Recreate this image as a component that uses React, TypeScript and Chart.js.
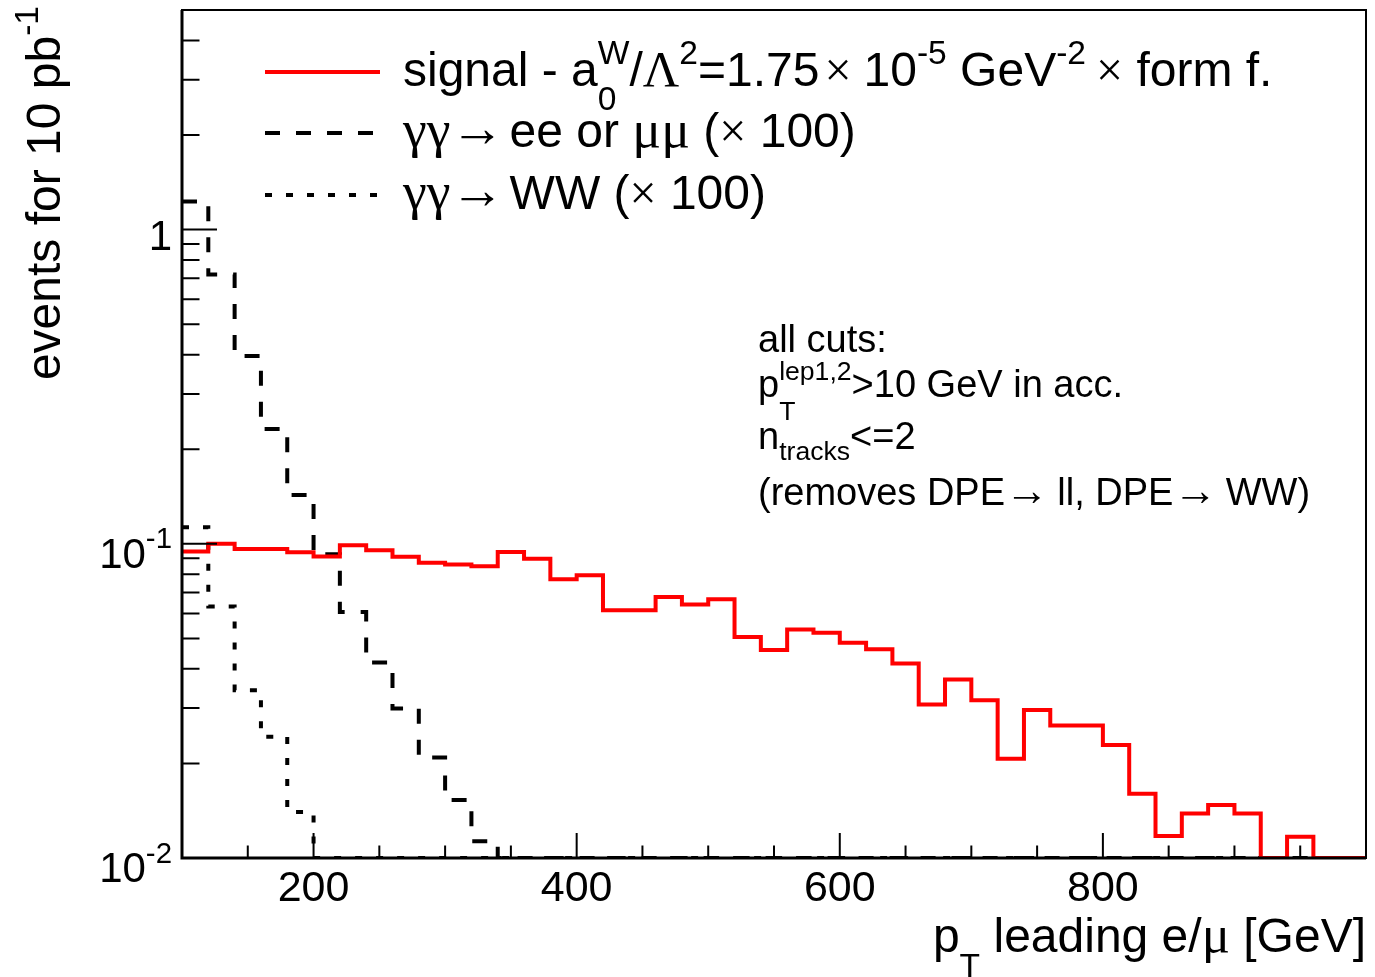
import React, { useEffect, useRef } from "react";
import { Chart, registerables } from "chart.js";

Chart.register(...registerables);

// ---------- data ----------
const binEdges = [
  100, 120, 140, 160, 180, 200, 220, 240, 260, 280, 300, 320, 340, 360, 380, 400,
  420, 440, 460, 480, 500, 520, 540, 560, 580, 600, 620, 640, 660, 680, 700, 720,
  740, 760, 780, 800, 820, 840, 860, 880, 900, 920, 940, 960, 980, 1000,
];

const signalValues = [
  0.0946, 0.1, 0.0963, 0.0962, 0.094, 0.0912, 0.099, 0.0954, 0.091, 0.0871, 0.0859,
  0.0848, 0.0941, 0.0897, 0.0771, 0.0794, 0.0615, 0.0615, 0.0677, 0.0641, 0.0666,
  0.0505, 0.0459, 0.0534, 0.0521, 0.0484, 0.0462, 0.0416, 0.0308, 0.037, 0.0318,
  0.0207, 0.0296, 0.0264, 0.0264, 0.0229, 0.016, 0.01175, 0.01386, 0.01474, 0.01386,
  0.01, 0.01169, 0.01, 0.01,
];

const eeMuMuValues = [
  1.228, 0.72, 0.396, 0.232, 0.143, 0.0926, 0.0607, 0.0419, 0.0299, 0.0209, 0.0153,
  0.0113, 0.01, 0.01, 0.01, 0.01, 0.01, 0.01, 0.01, 0.01, 0.01, 0.01, 0.01, 0.01,
  0.01, 0.01, 0.01, 0.01, 0.01, 0.01, 0.01, 0.01, 0.01, 0.01, 0.01, 0.01, 0.01, 0.01,
  0.01, 0.01, 0.01, 0.01, 0.01, 0.01, 0.01,
];

const wwValues = [
  0.113, 0.0632, 0.0342, 0.0243, 0.014, 0.01, 0.01, 0.01, 0.01, 0.01, 0.01, 0.01,
  0.01, 0.01, 0.01, 0.01, 0.01, 0.01, 0.01, 0.01, 0.01, 0.01, 0.01, 0.01, 0.01, 0.01,
  0.01, 0.01, 0.01, 0.01, 0.01, 0.01, 0.01, 0.01, 0.01, 0.01, 0.01, 0.01, 0.01, 0.01,
  0.01, 0.01, 0.01, 0.01, 0.01,
];

const xTickLabels = [200, 400, 600, 800];
const yMajorTicks = [0.01, 0.1, 1];
const yMinorTicks = [
  0.02, 0.03, 0.04, 0.05, 0.06, 0.07, 0.08, 0.09, 0.2, 0.3, 0.4, 0.5, 0.6, 0.7, 0.8,
  0.9, 2, 3, 4, 5,
];

// ---------- text helpers ----------
const SANS = "'Liberation Sans', Arial, Helvetica, sans-serif";
const SERIF = "'Liberation Serif', 'DejaVu Serif', 'Times New Roman', serif";

type Seg = {
  t?: string;
  serif?: boolean;
  sup?: string;
  sub?: string;
  dx?: number;
  scale?: number;
  subDy?: number;
  raise?: number;
};

const SCRIPT = 0.7;
const SUP_DY = -0.46;
const SUB_DY = 0.52;

function segWidth(ctx: CanvasRenderingContext2D, s: Seg, size: number): number {
  const dx = s.dx || 0;
  if (s.t !== undefined) {
    ctx.font = `${size * (s.scale || 1)}px ${s.serif ? SERIF : SANS}`;
    return dx + ctx.measureText(s.t).width;
  }
  ctx.font = `${size * SCRIPT}px ${s.serif ? SERIF : SANS}`;
  const a = s.sup ? ctx.measureText(s.sup).width : 0;
  const b = s.sub ? ctx.measureText(s.sub).width : 0;
  return dx + Math.max(a, b);
}

function richWidth(ctx: CanvasRenderingContext2D, segs: Seg[], size: number) {
  return segs.reduce((w, s) => w + segWidth(ctx, s, size), 0);
}

function drawRich(
  ctx: CanvasRenderingContext2D,
  segs: Seg[],
  x: number,
  y: number,
  size: number
) {
  let cx = x;
  ctx.textAlign = "left";
  ctx.textBaseline = "alphabetic";
  for (const s of segs) {
    const w = segWidth(ctx, s, size);
    const px = cx + (s.dx || 0);
    if (s.t !== undefined) {
      ctx.font = `${size * (s.scale || 1)}px ${s.serif ? SERIF : SANS}`;
      ctx.fillText(s.t, px, y - (s.raise || 0) * size);
    } else {
      ctx.font = `${size * SCRIPT}px ${s.serif ? SERIF : SANS}`;
      if (s.sup) ctx.fillText(s.sup, px, y + SUP_DY * size);
      if (s.sub) ctx.fillText(s.sub, px, y + (s.subDy ?? SUB_DY) * size);
    }
    cx += w;
  }
  return cx - x;
}

const legendLine1: Seg[] = [
  { t: "signal - a" },
  { sup: "W", sub: "0", subDy: 0.5 },
  { t: "/" },
  { t: "Λ", serif: true, scale: 1.05 },
  { sup: "2" },
  { t: "=1.75" },
  { t: "×", serif: true, dx: 5 },
  { t: "10", dx: 12 },
  { sup: "-5" },
  { t: " GeV" },
  { sup: "-2" },
  { t: "×", serif: true, dx: 10 },
  { t: " form f." },
];
const legendLine2: Seg[] = [
  { t: "γγ", serif: true, scale: 1.12 },
  { t: "→", serif: true, scale: 1.12, raise: 0.02 },
  { t: " ee or ", dx: -8 },
  { t: "μμ", serif: true, scale: 1.12 },
  { t: " (" },
  { t: "×", serif: true },
  { t: " 100)" },
];
const legendLine3: Seg[] = [
  { t: "γγ", serif: true, scale: 1.12 },
  { t: "→", serif: true, scale: 1.12, raise: 0.02 },
  { t: " WW (", dx: -8 },
  { t: "×", serif: true },
  { t: " 100)" },
];

const noteLines: Seg[][] = [
  [{ t: "all cuts:" }],
  [{ t: "p" }, { sup: "lep1,2", sub: "T", subDy: 0.6 }, { t: ">10 GeV in acc." }],
  [{ t: "n" }, { sub: "tracks", subDy: 0.3 }, { t: "<=2" }],
  [
    { t: "(removes DPE" },
    { t: "→", serif: true, scale: 1.15 },
    { t: " ll, DPE", dx: -2 },
    { t: "→", serif: true, scale: 1.15 },
    { t: " WW)", dx: -2 },
  ],
];

const xTitle: Seg[] = [
  { t: "p" },
  { sub: "T" },
  { t: " leading e/" },
  { t: "μ", serif: true, scale: 1.1 },
  { t: " [GeV]" },
];
const yTitle: Seg[] = [{ t: "events for 10 pb" }, { sup: "-1" }];

function yLabelSegs(v: number): Seg[] {
  if (v === 1) return [{ t: "1" }];
  const e = Math.round(Math.log10(v));
  return [{ t: "10" }, { sup: String(e) }];
}

// ---------- plugin drawing ROOT-like frame, ticks and texts ----------
const rootDecor = {
  id: "rootDecor",
  afterDraw(chart: any) {
    const ctx: CanvasRenderingContext2D = chart.ctx;
    const { left, right, top, bottom } = chart.chartArea;
    const xs = chart.scales.x;
    const ys = chart.scales.y;
    ctx.save();
    ctx.strokeStyle = "#000";
    ctx.fillStyle = "#000";
    ctx.lineCap = "butt";

    // frame
    ctx.lineWidth = 2;
    ctx.strokeRect(left, top, right - left, bottom - top);
    ctx.lineWidth = 3;
    ctx.beginPath();
    ctx.moveTo(left, top);
    ctx.lineTo(left, bottom);
    ctx.lineTo(right, bottom);
    ctx.stroke();

    // x ticks (inside, upward)
    ctx.lineWidth = 2;
    ctx.beginPath();
    for (const tk of xs.ticks) {
      const v = tk.value;
      if (v <= xs.min || v >= xs.max) continue;
      const px = xs.getPixelForValue(v);
      const len = xTickLabels.includes(v) ? 25 : 12.5;
      ctx.moveTo(px, bottom);
      ctx.lineTo(px, bottom - len);
    }
    // y ticks (inside, rightward)
    for (const v of yMajorTicks) {
      const py = ys.getPixelForValue(v);
      ctx.moveTo(left, py);
      ctx.lineTo(left + 35, py);
    }
    for (const v of yMinorTicks) {
      const py = ys.getPixelForValue(v);
      if (py < top - 0.5) continue;
      ctx.moveTo(left, py);
      ctx.lineTo(left + 17.5, py);
    }
    ctx.stroke();

    // y tick labels
    const yLabSize = 42;
    for (const v of yMajorTicks) {
      const segs = yLabelSegs(v);
      const w = richWidth(ctx, segs, yLabSize);
      const py = ys.getPixelForValue(v);
      drawRich(ctx, segs, 172 - w, py + (v === 1 ? 20 : 24), yLabSize);
    }

    // legend
    const lx0 = 265, lx1 = 380;
    const rows = [
      { y: 72, color: "#ff0000", dash: [] as number[], segs: legendLine1 },
      { y: 133, color: "#000", dash: [15, 16], segs: legendLine2 },
      { y: 195, color: "#000", dash: [7, 14], segs: legendLine3 },
    ];
    for (const r of rows) {
      ctx.save();
      ctx.strokeStyle = r.color;
      ctx.lineWidth = 4;
      ctx.setLineDash(r.dash);
      ctx.beginPath();
      ctx.moveTo(lx0, r.y);
      ctx.lineTo(lx1, r.y);
      ctx.stroke();
      ctx.restore();
      drawRich(ctx, r.segs, 403, r.y + 14, 48);
    }

    // cut annotation
    const noteBase = [352, 397, 449, 505];
    noteLines.forEach((segs, i) => drawRich(ctx, segs, 758, noteBase[i], 38));

    // x title (right aligned at the axis end)
    const xtW = richWidth(ctx, xTitle, 48);
    drawRich(ctx, xTitle, right - xtW, 952, 48);

    // y title (rotated, right aligned at the top)
    const ytW = richWidth(ctx, yTitle, 48);
    ctx.save();
    ctx.translate(60, 6);
    ctx.rotate(-Math.PI / 2);
    drawRich(ctx, yTitle, -ytW, 0, 48);
    ctx.restore();

    ctx.restore();
  },
};

function histPoints(vals: number[]) {
  return binEdges.map((x, i) => ({ x, y: vals[Math.min(i, vals.length - 1)] }));
}

export default function App() {
  const ref = useRef<HTMLCanvasElement>(null);

  useEffect(() => {
    document.body.style.margin = "0";
    const canvas = ref.current;
    if (!canvas) return;
    const chart = new Chart(canvas, {
      type: "line",
      data: {
        datasets: [
          {
            label: "signal",
            data: histPoints(signalValues),
            borderColor: "#ff0000",
            borderWidth: 4,
            stepped: "before",
            pointRadius: 0,
            fill: false,
            borderJoinStyle: "miter",
          },
          {
            label: "ee/mumu x100",
            data: histPoints(eeMuMuValues),
            borderColor: "#000",
            borderWidth: 4,
            borderDash: [15, 16],
            stepped: "before",
            pointRadius: 0,
            fill: false,
            borderJoinStyle: "miter",
          },
          {
            label: "WW x100",
            data: histPoints(wwValues),
            borderColor: "#000",
            borderWidth: 4,
            borderDash: [7, 14],
            stepped: "before",
            pointRadius: 0,
            fill: false,
            borderJoinStyle: "miter",
          },
        ],
      },
      options: {
        responsive: false,
        animation: false,
        devicePixelRatio: 1,
        layout: { padding: { top: 10, right: 9, left: 0, bottom: 0 } },
        plugins: {
          legend: { display: false },
          tooltip: { enabled: false },
        },
        scales: {
          x: {
            type: "linear",
            min: 100,
            max: 1000,
            display: true,
            grid: { display: false, drawTicks: false },
            border: { display: false },
            ticks: {
              stepSize: 50,
              autoSkip: false,
              maxRotation: 0,
              padding: 5,
              color: "#000",
              font: { family: SANS, size: 43 },
              callback: (v: any) => (xTickLabels.includes(Number(v)) ? String(v) : ""),
            },
            afterFit: (s: any) => {
              s.height = 119;
            },
          },
          y: {
            type: "logarithmic",
            min: 0.01,
            max: 5,
            display: true,
            grid: { display: false, drawTicks: false },
            border: { display: false },
            ticks: { display: false },
            afterFit: (s: any) => {
              s.width = 182;
            },
          },
        },
      },
      plugins: [rootDecor],
    } as any);
    return () => chart.destroy();
  }, []);

  return (
    <div style={{ position: "absolute", left: 0, top: 0, width: 1375, height: 977, background: "#fff" }}>
      <canvas ref={ref} width={1375} height={977} style={{ width: 1375, height: 977, display: "block" }} />
    </div>
  );
}
